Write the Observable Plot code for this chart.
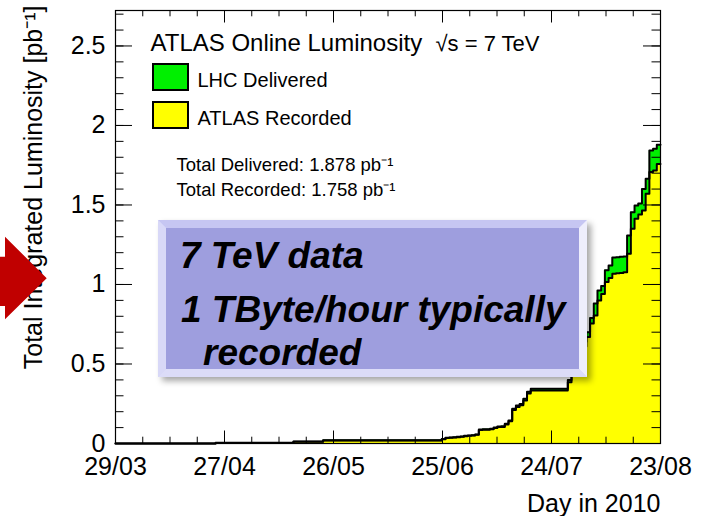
<!DOCTYPE html>
<html><head><meta charset="utf-8">
<script src="https://cdn.jsdelivr.net/npm/d3@7"></script>
<script src="https://cdn.jsdelivr.net/npm/@observablehq/plot@0.6"></script>
<style>body{margin:0;background:#fff;} #chart{position:relative;width:703px;height:516px;}</style>
</head><body><div id="chart"></div>
<script>
// ---- data ----
const xTickLabels = ["29/03","27/04","26/05","25/06","24/07","23/08"];
const totalDays = 147;                 // 29/03 -> 23/08
const yTickValues = [0, 0.5, 1, 1.5, 2, 2.5];
const yTickLabels = ["0","0.5","1","1.5","2","2.5"];
const yMax = 2.723;
// day index (since 29/03) where each new cumulative value begins
const stepDay   = [0, 1, 27, 48, 56, 88, 89, 90, 91, 92, 93, 94, 95, 96, 97, 98, 99, 100, 101, 102, 103, 104, 105, 106, 107, 108, 109, 110, 111, 112, 122, 123, 124, 125, 126, 127, 128, 129, 130, 131, 132, 133, 134, 135, 136, 137, 138, 139, 140, 141, 142, 143, 144, 145, 146];
const delivered = [0, 0.0005, 0.004, 0.012, 0.02, 0.028, 0.036, 0.038, 0.04, 0.042, 0.044, 0.048, 0.05, 0.052, 0.057, 0.088, 0.089, 0.09, 0.092, 0.1, 0.107, 0.108, 0.124, 0.145, 0.218, 0.239, 0.249, 0.281, 0.325, 0.344, 0.40, 0.46, 0.52, 0.58, 0.64, 0.70, 0.79, 0.88, 0.962, 0.99, 1.09, 1.12, 1.17, 1.172, 1.174, 1.176, 1.308, 1.455, 1.497, 1.51, 1.60, 1.665, 1.843, 1.853, 1.878];
const recorded  = [0, 0.0004, 0.0035, 0.011, 0.019, 0.027, 0.034, 0.036, 0.038, 0.04, 0.042, 0.046, 0.048, 0.05, 0.055, 0.085, 0.086, 0.087, 0.089, 0.097, 0.103, 0.104, 0.12, 0.14, 0.21, 0.23, 0.24, 0.271, 0.314, 0.334, 0.385, 0.44, 0.50, 0.555, 0.61, 0.669, 0.755, 0.805, 0.9, 0.94, 1.015, 1.04, 1.067, 1.07, 1.073, 1.077, 1.193, 1.35, 1.413, 1.44, 1.465, 1.57, 1.707, 1.717, 1.758];
const seriesNames = ["LHC Delivered", "ATLAS Recorded"];
const seriesColors = ["#00f000", "#ffff00"];
const titleText = "ATLAS Online Luminosity";
const energyText = "\u221As = 7 TeV";
const totalsText = ["Total Delivered: 1.878 pb\u207B\u00B9", "Total Recorded: 1.758 pb\u207B\u00B9"];
const yTitle = "Total Integrated Luminosity [pb\u207B\u00B9]";
const xTitle = "Day in 2010";
const boxLines = ["7 TeV data", "1 TByte/hour typically", "recorded"];

// ---- table ----
const rows = stepDay.map((d, i) => ({day: d, delivered: delivered[i], recorded: recorded[i]}));
rows.push({day: totalDays, delivered: delivered[delivered.length - 1], recorded: recorded[recorded.length - 1]});

const W = 703, H = 516, mL = 115, mR = 43, mT = 10, mB = 73;
const innerW = W - mL - mR, innerH = H - mT - mB;
const xMinor = d3.range(21).map(i => i * totalDays / 20);
const xMajor = xMinor.filter((d, i) => i % 4 === 0);
const yMinor = d3.range(28).map(i => i / 10);
const yMajor = yTickValues;
const font = "Liberation Sans, Arial, Helvetica, sans-serif";

const T = (txt, x, y, opts = {}) => Plot.text([txt], {frameAnchor: "top-left", text: d => d, dx: x - mL, dy: y - mT, lineAnchor: "bottom", textAnchor: "start", fill: "black", ...opts});

const plot = Plot.plot({
  width: W, height: H,
  marginLeft: mL, marginRight: mR, marginTop: mT, marginBottom: mB,
  style: {fontFamily: font, background: "white", overflow: "visible"},
  x: {domain: [0, totalDays], nice: false},
  y: {domain: [0, yMax], nice: false},
  marks: [
    Plot.areaY(rows, {x: "day", y: "delivered", curve: "step-after", fill: seriesColors[0]}),
    Plot.areaY(rows, {x: "day", y: "recorded", curve: "step-after", fill: seriesColors[1]}),
    Plot.lineY(rows, {x: "day", y: "delivered", curve: "step-after", stroke: "black", strokeWidth: 2}),
    Plot.lineY(rows, {x: "day", y: "recorded", curve: "step-after", stroke: "black", strokeWidth: 2}),
    // inward ticks on all four sides
    Plot.tickX(xMinor, {x: d => d, insetTop: innerH - 6.3, stroke: "black"}),
    Plot.tickX(xMajor, {x: d => d, insetTop: innerH - 12.5, stroke: "black"}),
    Plot.tickX(xMinor, {x: d => d, insetBottom: innerH - 6.3, stroke: "black"}),
    Plot.tickX(xMajor, {x: d => d, insetBottom: innerH - 12.5, stroke: "black"}),
    Plot.tickY(yMinor, {y: d => d, insetRight: innerW - 8.5, stroke: "black"}),
    Plot.tickY(yMajor, {y: d => d, insetRight: innerW - 17, stroke: "black"}),
    Plot.tickY(yMinor, {y: d => d, insetLeft: innerW - 8.5, stroke: "black"}),
    Plot.tickY(yMajor, {y: d => d, insetLeft: innerW - 17, stroke: "black"}),
    Plot.frame({stroke: "black", strokeWidth: 1.2}),
    Plot.axisX(xMajor, {anchor: "bottom", tickSize: 0, tickPadding: 14, fontSize: 25, label: null,
      tickFormat: d => xTickLabels[Math.round(d / totalDays * 5)]}),
    Plot.axisY(yMajor, {anchor: "left", tickSize: 0, tickPadding: 10, fontSize: 25, label: null,
      tickFormat: d => yTickLabels[yTickValues.indexOf(d)]}),
    T(xTitle, 660, 511, {textAnchor: "end", fontSize: 25}),
    T(yTitle, 41, 5, {textAnchor: "end", rotate: -90, fontSize: 25}),
    T(titleText, 150, 50, {fontSize: 24}),
    T(energyText, 435, 50, {fontSize: 22}),
    T(seriesNames[0], 197, 86, {fontSize: 20}),
    T(seriesNames[1], 197, 124, {fontSize: 20}),
    T(totalsText[0], 176, 170, {fontSize: 18.5}),
    T(totalsText[1], 176, 195, {fontSize: 18.5})
  ]
});

const svg = d3.select(plot);
// legend swatches
svg.append("rect").attr("x", 153).attr("y", 64).attr("width", 35).attr("height", 26)
  .attr("fill", seriesColors[0]).attr("stroke", "black").attr("stroke-width", 2);
svg.append("rect").attr("x", 153).attr("y", 102).attr("width", 35).attr("height", 26)
  .attr("fill", seriesColors[1]).attr("stroke", "black").attr("stroke-width", 2);

// overlay: annotation box and arrow
const defs = svg.append("defs");
const f = defs.append("filter").attr("id", "shadow").attr("x", "-10%").attr("y", "-10%").attr("width", "130%").attr("height", "140%");
f.append("feDropShadow").attr("dx", 4).attr("dy", 4).attr("stdDeviation", 3).attr("flood-color", "#000").attr("flood-opacity", 0.35);
const g = svg.append("g").attr("text-anchor", "start");
const bx = 158, by = 220, bw = 429, bh = 157, bb = 8;
g.append("rect").attr("x", bx).attr("y", by).attr("width", bw).attr("height", bh).attr("fill", "#d4d4f6").attr("filter", "url(#shadow)");
g.append("polygon").attr("points", [[bx,by],[bx+bw,by],[bx+bw-bb,by+bb],[bx+bb,by+bb]].join(" ")).attr("fill", "#c6c6f2");
g.append("polygon").attr("points", [[bx+bw,by],[bx+bw,by+bh],[bx+bw-bb,by+bh-bb],[bx+bw-bb,by+bb]].join(" ")).attr("fill", "#eeeefc");
g.append("polygon").attr("points", [[bx,by+bh],[bx+bw,by+bh],[bx+bw-bb,by+bh-bb],[bx+bb,by+bh-bb]].join(" ")).attr("fill", "#dcdcf8");
g.append("polygon").attr("points", [[bx,by],[bx,by+bh],[bx+bb,by+bh-bb],[bx+bb,by+bb]].join(" ")).attr("fill", "#d8d8f7");
g.append("rect").attr("x", bx+bb).attr("y", by+bb).attr("width", bw-2*bb).attr("height", bh-2*bb).attr("fill", "#9e9ede");
const lineX = [180, 181, 203], lineY = [268, 322, 365];
boxLines.forEach((t, i) => {
  g.append("text").attr("x", lineX[i]).attr("y", lineY[i]).text(t)
    .attr("text-anchor", "start")
    .attr("font-family", font).attr("font-weight", "bold").attr("font-style", "italic")
    .attr("font-size", 37).attr("fill", "black");
});
g.append("polygon").attr("points", [[0,256.7],[5,256.7],[5,236.7],[46.7,278.3],[5,319.3],[5,306],[0,306]].join(" ")).attr("fill", "#c00000");

document.getElementById("chart").appendChild(plot);
</script></body></html>
